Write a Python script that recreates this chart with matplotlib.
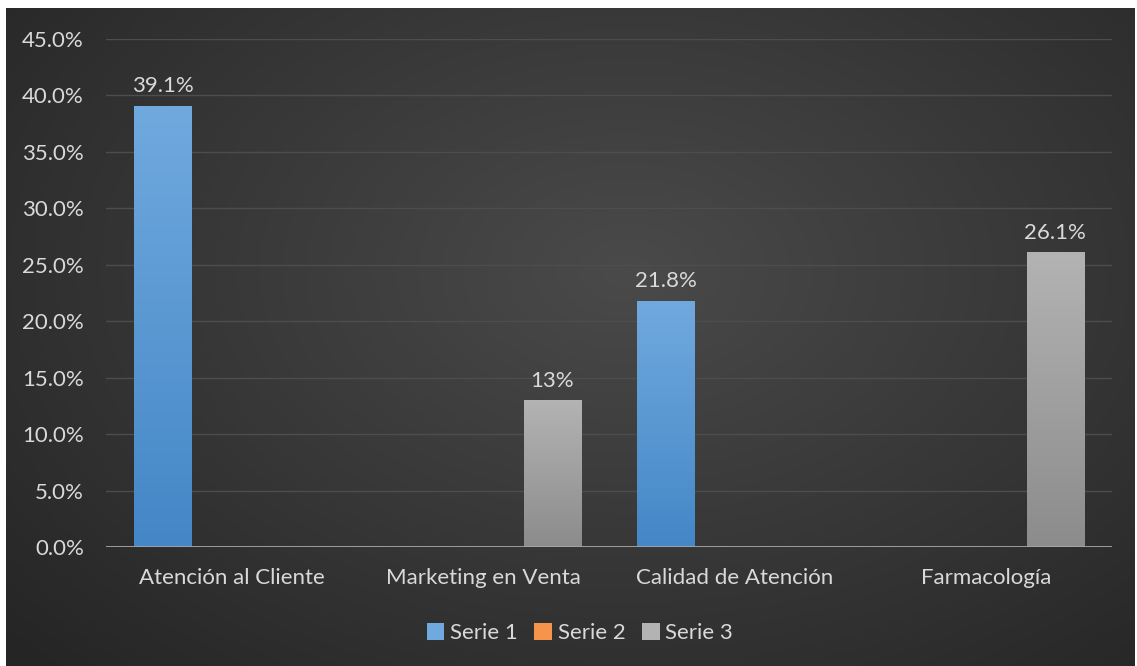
import numpy as np
import matplotlib.pyplot as plt
from matplotlib.colors import LinearSegmentedColormap
from matplotlib.patches import Patch

categories = ['Atención al Cliente', 'Marketing en Venta', 'Calidad de Atención', 'Farmacología']
series_names = ['Serie 1', 'Serie 2', 'Serie 3']
serie1 = [39.1, 0, 21.8, 0]
serie2 = [0, 0, 0, 0]
serie3 = [0, 13, 0, 26.1]
value_labels = {
    'Serie 1': ['39.1%', '', '21.8%', ''],
    'Serie 2': ['', '', '', ''],
    'Serie 3': ['', '13%', '', '26.1%'],
}
yticks = [0, 5, 10, 15, 20, 25, 30, 35, 40, 45]

TEXT = '#d9d9d9'
FS = 16
GRADS = {
    'Serie 1': ('#70a9de', '#4487c7'),
    'Serie 2': ('#f5944a', '#e8711f'),
    'Serie 3': ('#b3b3b3', '#8c8c8c'),
}

plt.rcParams['font.family'] = ['Lato', 'DejaVu Sans']

fig = plt.figure(figsize=(11.37, 6.66), dpi=100)
fig.patch.set_facecolor('white')

# dark radial backdrop
bg = fig.add_axes([6 / 1137, 0, 1 - 8 / 1137, 1 - 8 / 666])
yy, xx = np.mgrid[0:1:300j, 0:1:500j]
r = np.sqrt(((xx - 0.55) / 0.75) ** 2 + ((yy - 0.4) / 0.85) ** 2)
shade = np.clip(1 - r, 0, 1)
bg_cmap = LinearSegmentedColormap.from_list('bg', ['#252525', '#4a4a4a'])
bg.imshow(shade, cmap=bg_cmap, aspect='auto', extent=[0, 1, 0, 1], origin='upper')
bg.set_axis_off()

ax = fig.add_axes([106 / 1137, 1 - 547 / 666, (1112 - 106) / 1137, (547 - 39) / 666])
ax.set_facecolor('none')

x = np.arange(len(categories))
offset = 0.274
width = 0.227
data = [serie1, serie2, serie3]

for i, (name, vals) in enumerate(zip(series_names, data)):
    bars = ax.bar(x + (i - 1) * offset, vals, width, color='none', edgecolor='none', zorder=3)
    top, bottom = GRADS[name]
    cmap = LinearSegmentedColormap.from_list(name, [bottom, top])
    for b, lab in zip(bars, value_labels[name]):
        h = b.get_height()
        if h <= 0:
            continue
        x0 = b.get_x()
        grad = np.linspace(0, 1, 100).reshape(-1, 1)
        im = ax.imshow(grad, cmap=cmap, aspect='auto', origin='lower',
                       extent=[x0, x0 + b.get_width(), 0, h], zorder=3)
        im.set_clip_path(b)
        if lab:
            ax.annotate(lab, (x0 + b.get_width() / 2, h), xytext=(0, 7),
                        textcoords='offset points', ha='center', va='bottom',
                        fontsize=FS, color=TEXT)

ax.set_xlim(-0.5, len(categories) - 0.5)
ax.set_ylim(0, 45)
ax.set_yticks(yticks)
ax.set_yticklabels([f'{t:.1f}%' for t in yticks])
ax.set_xticks(x)
ax.set_xticklabels(categories)
ax.tick_params(axis='both', length=0, colors=TEXT, labelsize=FS)
ax.tick_params(axis='x', pad=15)
ax.tick_params(axis='y', pad=16)
ax.grid(axis='y', color='#4d4d4d', linewidth=1, zorder=0)
for s in ax.spines.values():
    s.set_visible(False)
ax.axhline(0, color='#a6a6a6', linewidth=2, zorder=4)

handles = [Patch(facecolor=GRADS[n][0], edgecolor='none') for n in series_names]
fig.legend(handles, series_names, loc='center', bbox_to_anchor=(0.510, 1 - 633 / 666),
           ncol=3, frameon=False, fontsize=FS, labelcolor=TEXT,
           handlelength=0.8, handleheight=0.8, handletextpad=0.25, columnspacing=0.75)

fig.savefig('out.png', dpi=100, facecolor='white')
